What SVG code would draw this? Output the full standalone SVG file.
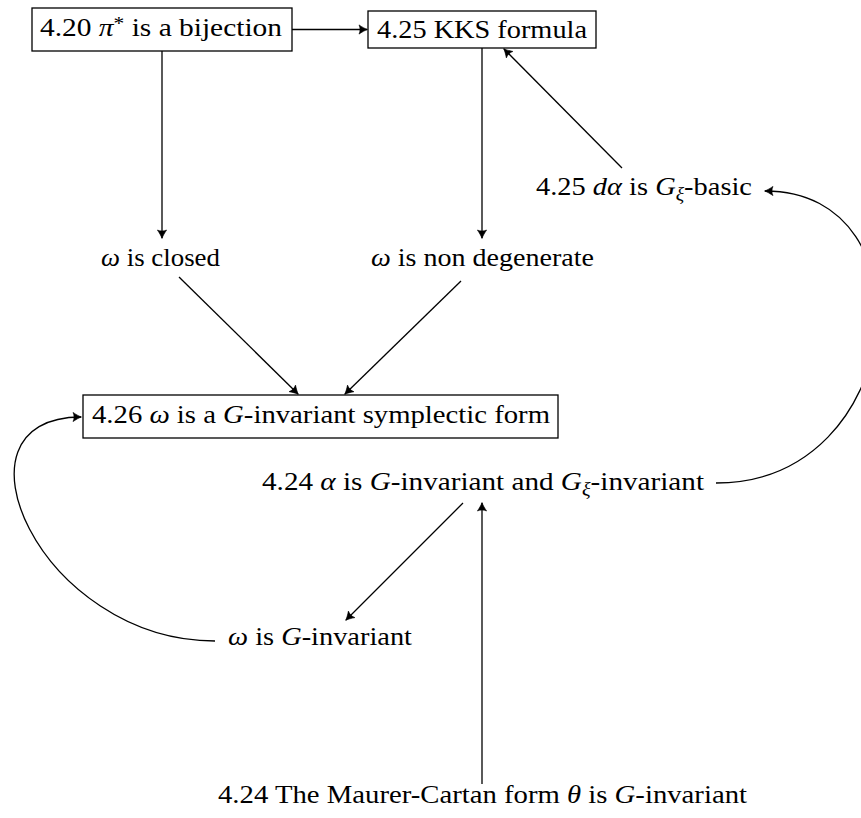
<svg xmlns="http://www.w3.org/2000/svg" width="861" height="818" viewBox="0 0 861 818">
<style>
text{font-family:"Liberation Serif","Times New Roman",serif;font-size:26px;fill:#000}
.i{font-style:italic}
.box{fill:#fff;stroke:#000;stroke-width:1.3}
.edge{fill:none;stroke:#000;stroke-width:1.3;marker-end:url(#ah)}
</style>
<defs>
<marker id="ah" markerUnits="userSpaceOnUse" markerWidth="12" markerHeight="12" refX="0" refY="0" orient="auto" overflow="visible">
<path d="M0.5,0 C-2,-0.8 -5,-2.6 -8,-4.6 C-6.6,-2 -6.6,2 -8,4.6 C-5,2.6 -2,0.8 0.5,0 Z" fill="#000" stroke="#000" stroke-width="0.6" stroke-linejoin="round"/>
</marker>
</defs>
<rect width="861" height="818" fill="#fff"/>
<g id="connectors">
<path class="edge" d="M292,29.5 L367,29.5"/>
<path class="edge" d="M162,51 L162,238"/>
<path class="edge" d="M482,48 L482,238"/>
<path class="edge" d="M622,168 L504,49"/>
<path class="edge" d="M179,277 L298,394"/>
<path class="edge" d="M461,281 L345,394"/>
<path class="edge" d="M716,483 C906,483 935,191 765,191"/>
<path class="edge" d="M463,503 L346,620"/>
<path class="edge" d="M482,784 L482,503"/>
<path class="edge" d="M215,641 C40,641 -60,417 81,417"/>
</g>
<g id="n420">
<rect class="box" x="32" y="8" width="260" height="43"/>
<text x="40" y="36" textLength="242" lengthAdjust="spacingAndGlyphs">4.20 <tspan class="i">π</tspan><tspan font-size="19" dy="-6">*</tspan><tspan dy="6"> is a bijection</tspan></text>
</g>
<g id="nKKS">
<rect class="box" x="368" y="11" width="228" height="37"/>
<text x="377" y="38" textLength="210" lengthAdjust="spacingAndGlyphs">4.25 KKS formula</text>
</g>
<g id="nclosed">
<text x="101" y="266" textLength="119" lengthAdjust="spacingAndGlyphs"><tspan class="i">ω</tspan> is closed</text>
</g>
<g id="nnondeg">
<text x="371" y="266" textLength="223" lengthAdjust="spacingAndGlyphs"><tspan class="i">ω</tspan> is non degenerate</text>
</g>
<g id="nbasic">
<text x="536" y="195" textLength="216" lengthAdjust="spacingAndGlyphs">4.25 <tspan class="i">dα</tspan> is <tspan class="i">G</tspan><tspan class="i" font-size="18" dy="5">ξ</tspan><tspan dy="-5">-basic</tspan></text>
</g>
<g id="n426">
<rect class="box" x="83" y="395" width="475" height="43"/>
<text x="92" y="423" textLength="458" lengthAdjust="spacingAndGlyphs">4.26 <tspan class="i">ω</tspan> is a <tspan class="i">G</tspan>-invariant symplectic form</text>
</g>
<g id="nalpha">
<text x="262" y="490" textLength="442" lengthAdjust="spacingAndGlyphs">4.24 <tspan class="i">α</tspan> is <tspan class="i">G</tspan>-invariant and <tspan class="i">G</tspan><tspan class="i" font-size="18" dy="5">ξ</tspan><tspan dy="-5">-invariant</tspan></text>
</g>
<g id="nGinv">
<text x="228" y="645" textLength="184" lengthAdjust="spacingAndGlyphs"><tspan class="i">ω</tspan> is <tspan class="i">G</tspan>-invariant</text>
</g>
<g id="nmc">
<text x="218" y="803" textLength="529" lengthAdjust="spacingAndGlyphs">4.24 The Maurer-Cartan form <tspan class="i">θ</tspan> is <tspan class="i">G</tspan>-invariant</text>
</g>
</svg>
